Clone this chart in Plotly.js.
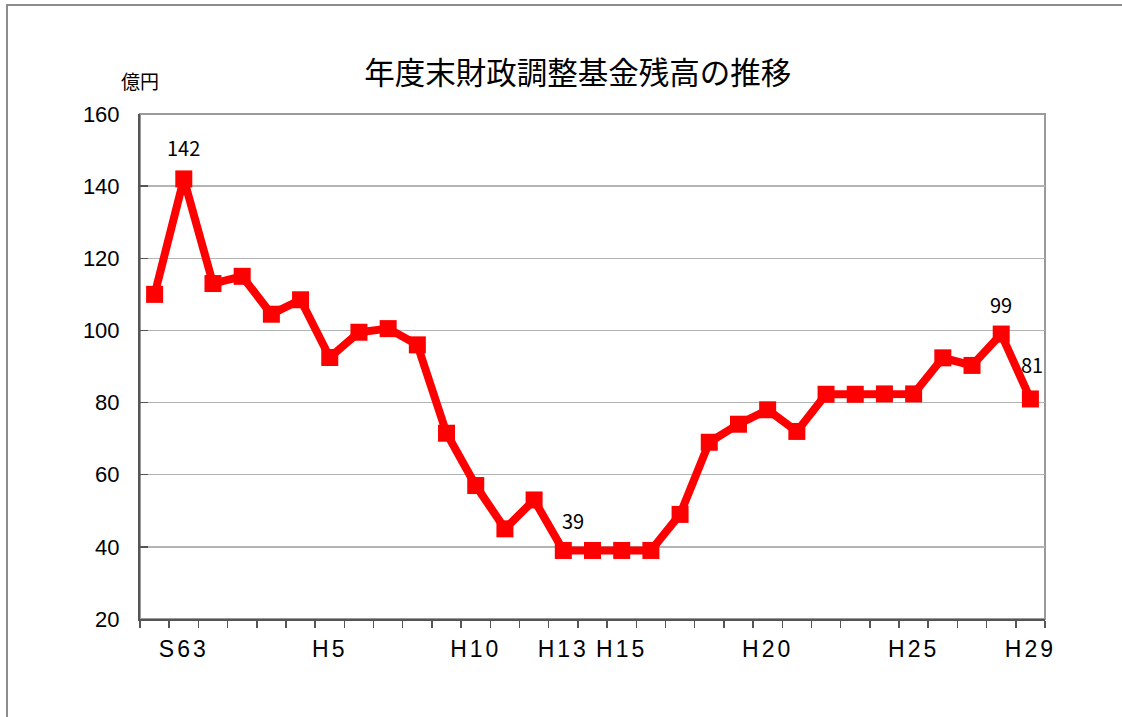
<!DOCTYPE html>
<html>
<head>
<meta charset="utf-8">
<script src="https://cdn.plot.ly/plotly-3.0.1.min.js"></script>
<style>
  html, body { margin: 0; padding: 0; background: #fff; }
  #chart { width: 1122px; height: 717px; }
  #frame { position: absolute; left: 6px; top: 4px; width: 1130px; height: 730px;
           border-top: 2px solid #8c8c8c; border-left: 2px solid #8c8c8c; pointer-events: none; }
  #chart .xtick text { letter-spacing: 3px; }
</style>
</head>
<body>
<div id="chart"></div>
<div id="frame"></div>
<script>
// ---- data ----
var years = ["S62","S63","H1","H2","H3","H4","H5","H6","H7","H8","H9","H10","H11","H12","H13","H14","H15","H16","H17","H18","H19","H20","H21","H22","H23","H24","H25","H26","H27","H28","H29"];
var balance = [110, 142, 113, 115, 104.5, 108.5, 92.5, 99.5, 100.5, 96, 71.5, 57, 45, 53, 39, 39, 39, 39, 49, 69, 74, 78, 72, 82.3, 82.3, 82.4, 82.4, 92.4, 90.3, 99, 81];
var shownTickLabels = ["S63","H5","H10","H13","H15","H20","H25","H29"];
var labelledYears = ["S63","H13","H28","H29"];
var labelTexts = ["142","39","99","81"];

// ---- styles ----
var labelShift = { "S63": [0, 31], "H13": [10, 30], "H28": [0, 30], "H29": [2, 34] };
var red = "#ff0000";

var tickText = years.map(function (y) { return shownTickLabels.indexOf(y) >= 0 ? y : ""; });

var trace = {
  type: "scatter",
  mode: "lines+markers",
  x: years,
  y: balance,
  line: { color: red, width: 8 },
  marker: { symbol: "square", size: 17, color: red },
  hoverinfo: "x+y",
  cliponaxis: false
};

var annotations = labelledYears.map(function (yr, i) {
  var idx = years.indexOf(yr);
  return {
    x: yr, y: balance[idx], xref: "x", yref: "y",
    text: labelTexts[i], showarrow: false,
    xshift: labelShift[yr][0], yshift: labelShift[yr][1],
    font: { family: "Noto Sans CJK JP, sans-serif", size: 20, color: "#000" }
  };
});
// unit label centred over the y-axis line
annotations.push({
  x: 0, xref: "paper", y: 1.067, yref: "paper", xanchor: "center", yanchor: "middle",
  text: "億円", showarrow: false,
  font: { family: "Noto Sans CJK JP, sans-serif", size: 19, color: "#000" }
});

var layout = {
  width: 1122, height: 717,
  margin: { l: 140, r: 77, t: 114, b: 98 },
  paper_bgcolor: "#fff", plot_bgcolor: "#fff",
  showlegend: false,
  title: {
    text: "年度末財政調整基金残高の推移",
    xref: "container", yref: "container",
    x: 0.515, y: 0.898, xanchor: "center", yanchor: "middle",
    font: { family: "Noto Sans CJK JP, sans-serif", size: 30.5, color: "#000" }
  },
  xaxis: {
    type: "category",
    categoryorder: "array", categoryarray: years,
    tickvals: years, ticktext: tickText,
    tickson: "boundaries",
    tickangle: 0,
    range: [-0.5, years.length - 0.5],
    ticks: "outside", ticklen: 7, tickwidth: 1.5, tickcolor: "#555",
    showline: true, linecolor: "#555", linewidth: 2,
    showgrid: false, zeroline: false,
    ticklabelstandoff: 8,
    tickfont: { family: "Liberation Sans, Arial, sans-serif", size: 23, color: "#000" },
    fixedrange: true
  },
  yaxis: {
    range: [20, 160], dtick: 20, tick0: 20,
    ticks: "inside", ticklen: 8, tickwidth: 1.5, tickcolor: "#555",
    showline: true, linecolor: "#555", linewidth: 2,
    showgrid: true, gridcolor: "#b4b4b4", gridwidth: 1.5,
    zeroline: false,
    ticklabelstandoff: 14,
    tickfont: { family: "Liberation Sans, Arial, sans-serif", size: 22, color: "#000" },
    fixedrange: true
  },
  shapes: [{
    type: "rect", xref: "paper", yref: "paper", x0: 0, x1: 1, y0: 0, y1: 1,
    line: { color: "#9a9a9a", width: 2 }, layer: "below"
  }],
  annotations: annotations
};

Plotly.newPlot("chart", [trace], layout, { displayModeBar: false, staticPlot: true });
</script>
</body>
</html>
